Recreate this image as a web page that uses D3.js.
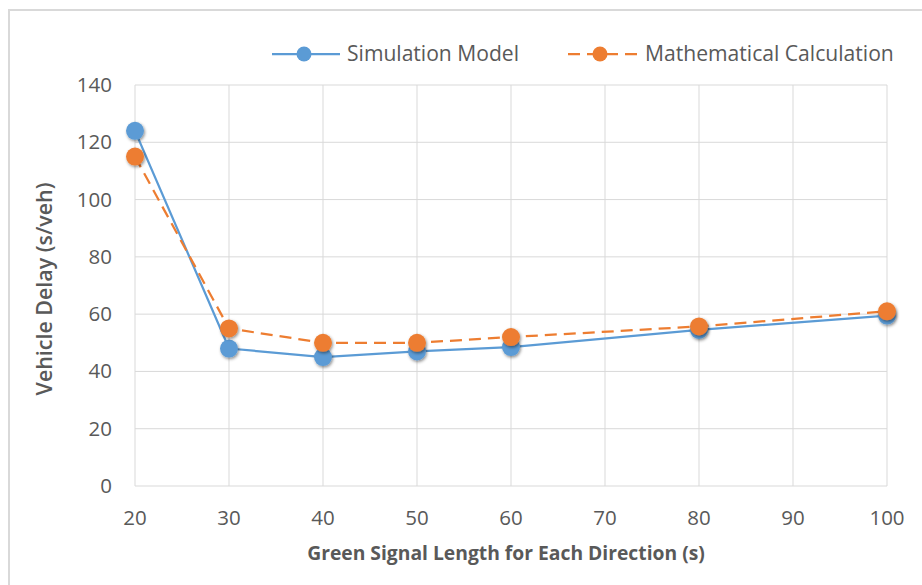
<!DOCTYPE html>
<html lang="en">
<head>
    <meta charset="UTF-8">
    <title>Vehicle Delay</title>
    <script src="https://cdn.jsdelivr.net/npm/d3@7"></script>
    <style>
        body { margin: 0; background: #fff; }
        text { font-family: "Open Sans", sans-serif; }
    </style>
</head>
<body>
    <svg></svg>
    <script>
        // data
        var greenLength = [20, 30, 40, 50, 60, 80, 100];
        var simulation = [124, 48, 45, 47, 48.5, 54.5, 59.5];
        var mathCalc = [115, 55, 50, 50, 52, 55.7, 61];
        var xTicks = [20, 30, 40, 50, 60, 70, 80, 90, 100];
        var yTicks = [0, 20, 40, 60, 80, 100, 120, 140];
        var seriesNames = ["Simulation Model", "Mathematical Calculation"];

        var W = 922, H = 585;
        var svg = d3.select("svg").attr("width", W).attr("height", H);

        // outer chart border
        svg.append("rect")
            .attr("x", 9).attr("y", 10)
            .attr("width", W).attr("height", H)
            .attr("fill", "none")
            .attr("stroke", "#d9d9d9")
            .attr("stroke-width", 2);

        // soft shadow for the markers
        var defs = svg.append("defs");
        var f = defs.append("filter").attr("id", "shadow")
            .attr("x", "-50%").attr("y", "-50%").attr("width", "200%").attr("height", "200%");
        f.append("feDropShadow")
            .attr("dx", 1).attr("dy", 1.5).attr("stdDeviation", 1.6)
            .attr("flood-color", "#000").attr("flood-opacity", 0.45);

        var x = d3.scaleLinear().domain([20, 100]).range([135, 887]);
        var y = d3.scaleLinear().domain([0, 140]).range([486, 85]);

        // gridlines
        svg.append("g").selectAll("line").data(yTicks).enter().append("line")
            .attr("x1", x(20)).attr("x2", x(100))
            .attr("y1", function(d){ return y(d); }).attr("y2", function(d){ return y(d); })
            .attr("stroke", "#d9d9d9").attr("stroke-width", 1);
        svg.append("g").selectAll("line").data(xTicks).enter().append("line")
            .attr("x1", function(d){ return x(d); }).attr("x2", function(d){ return x(d); })
            .attr("y1", y(0)).attr("y2", y(140))
            .attr("stroke", "#d9d9d9").attr("stroke-width", 1);

        // tick labels
        svg.append("g").selectAll("text").data(yTicks).enter().append("text")
            .attr("x", 112).attr("y", function(d){ return y(d) + 7; })
            .attr("text-anchor", "end")
            .attr("font-size", 20.5).attr("fill", "#595959")
            .text(function(d){ return d; });
        svg.append("g").selectAll("text").data(xTicks).enter().append("text")
            .attr("x", function(d){ return x(d); }).attr("y", 525)
            .attr("text-anchor", "middle")
            .attr("font-size", 20.5).attr("fill", "#595959")
            .text(function(d){ return d; });

        // fit a title to the width it takes in the source chart
        function fitWidth(sel, target) {
            var w = sel.node().getComputedTextLength();
            var fs = +sel.attr("font-size");
            sel.attr("font-size", fs * target / w);
        }

        // axis titles
        var xTitle = svg.append("text")
            .attr("x", 506).attr("y", 560)
            .attr("text-anchor", "middle")
            .attr("font-size", 18).attr("font-weight", "bold").attr("fill", "#595959")
            .text("Green Signal Length for Each Direction (s)");
        fitWidth(xTitle, 398);
        var yTitle = svg.append("text")
            .attr("transform", "translate(52,289) rotate(-90)")
            .attr("text-anchor", "middle")
            .attr("font-size", 18).attr("font-weight", 600).attr("fill", "#595959")
            .text("Vehicle Delay (s/veh)");
        fitWidth(yTitle, 213);

        var line = d3.line()
            .x(function(d){ return x(d[0]); })
            .y(function(d){ return y(d[1]); });

        var simPts = greenLength.map(function(g, i){ return [g, simulation[i]]; });
        var mathPts = greenLength.map(function(g, i){ return [g, mathCalc[i]]; });

        svg.append("path").datum(simPts)
            .attr("d", line).attr("fill", "none")
            .attr("stroke", "#5b9bd5").attr("stroke-width", 2.25);
        svg.append("path").datum(mathPts)
            .attr("d", line).attr("fill", "none")
            .attr("stroke", "#ed7d31").attr("stroke-width", 2.25)
            .attr("stroke-dasharray", "12,7");

        svg.append("g").selectAll("circle").data(simPts).enter().append("circle")
            .attr("cx", function(d){ return x(d[0]); }).attr("cy", function(d){ return y(d[1]); })
            .attr("r", 9).attr("fill", "#5b9bd5").attr("filter", "url(#shadow)");
        svg.append("g").selectAll("circle").data(mathPts).enter().append("circle")
            .attr("cx", function(d){ return x(d[0]); }).attr("cy", function(d){ return y(d[1]); })
            .attr("r", 9).attr("fill", "#ed7d31").attr("filter", "url(#shadow)");

        // legend
        var lg = svg.append("g");
        lg.append("line").attr("x1", 272).attr("x2", 340).attr("y1", 54).attr("y2", 54)
            .attr("stroke", "#5b9bd5").attr("stroke-width", 2.25);
        lg.append("circle").attr("cx", 304).attr("cy", 54).attr("r", 7.5).attr("fill", "#5b9bd5");
        var t1 = lg.append("text").attr("x", 347).attr("y", 61)
            .attr("font-size", 19).attr("fill", "#595959").text(seriesNames[0]);
        fitWidth(t1, 172);
        lg.append("line").attr("x1", 568).attr("x2", 640).attr("y1", 54).attr("y2", 54)
            .attr("stroke", "#ed7d31").attr("stroke-width", 2.25)
            .attr("stroke-dasharray", "12,7");
        lg.append("circle").attr("cx", 600).attr("cy", 54).attr("r", 7.5).attr("fill", "#ed7d31");
        var t2 = lg.append("text").attr("x", 645).attr("y", 61)
            .attr("font-size", 19).attr("fill", "#595959").text(seriesNames[1]);
        fitWidth(t2, 249);
    </script>
</body>
</html>
